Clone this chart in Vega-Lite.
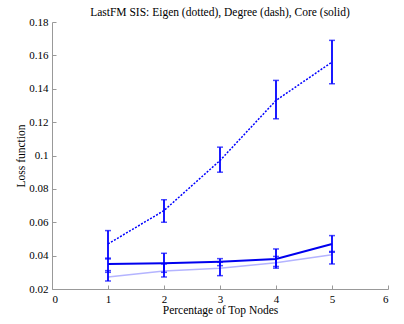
{
  "$schema": "https://vega.github.io/schema/vega-lite/v6.json",
  "width": 336,
  "height": 267,
  "autosize": {"type": "none"},
  "padding": {"left": 52, "top": 22, "right": 16, "bottom": 35},
  "background": "white",
  "title": {"text": "LastFM SIS: Eigen (dotted), Degree (dash), Core (solid)", "font": "Liberation Serif", "fontSize": 11.5, "fontWeight": "normal", "color": "#000", "offset": -2},
  "config": {
    "view": {"stroke": null},
    "axis": {"labelFont": "Liberation Serif", "titleFont": "Liberation Serif", "labelFontSize": 11, "titleFontSize": 11.5, "titleFontWeight": "normal", "labelColor": "#000", "titleColor": "#000", "domainColor": "#999", "tickColor": "#999", "grid": false, "tickSize": -4, "labelPadding": 8}
  },
  "data": {"values": [
    {"series": "Degree", "x": 1, "y": 0.047, "lo": 0.038, "hi": 0.055},
    {"series": "Degree", "x": 2, "y": 0.067, "lo": 0.060, "hi": 0.0735},
    {"series": "Degree", "x": 3, "y": 0.097, "lo": 0.090, "hi": 0.105},
    {"series": "Degree", "x": 4, "y": 0.133, "lo": 0.122, "hi": 0.145},
    {"series": "Degree", "x": 5, "y": 0.156, "lo": 0.143, "hi": 0.169},
    {"series": "Core", "x": 1, "y": 0.035, "lo": 0.030, "hi": 0.0385},
    {"series": "Core", "x": 2, "y": 0.0355, "lo": 0.030, "hi": 0.0414},
    {"series": "Core", "x": 3, "y": 0.0364, "lo": 0.034, "hi": 0.0382},
    {"series": "Core", "x": 4, "y": 0.038, "lo": 0.0335, "hi": 0.044},
    {"series": "Core", "x": 5, "y": 0.047, "lo": 0.042, "hi": 0.052},
    {"series": "Eigen", "x": 1, "y": 0.0272, "lo": 0.0248, "hi": 0.031},
    {"series": "Eigen", "x": 2, "y": 0.0308, "lo": 0.0272, "hi": 0.035},
    {"series": "Eigen", "x": 3, "y": 0.0324, "lo": 0.028, "hi": 0.036},
    {"series": "Eigen", "x": 4, "y": 0.0358, "lo": 0.0325, "hi": 0.0395},
    {"series": "Eigen", "x": 5, "y": 0.0405, "lo": 0.035, "hi": 0.0425}
  ]},
  "encoding": {
    "x": {"field": "x", "type": "quantitative", "scale": {"domain": [0, 6], "nice": false}, "axis": {"values": [0,1,2,3,4,5,6], "title": "Percentage of Top Nodes", "titlePadding": 0, "format": "d"}},
    "y": {"field": "y", "type": "quantitative", "scale": {"domain": [0.02, 0.18], "nice": false, "zero": false}, "axis": {"values": [0.02,0.04,0.06,0.08,0.1,0.12,0.14,0.16,0.18], "title": "Loss function", "titlePadding": 2, "format": "~g"}}
  },
  "layer": [
    {"transform": [{"filter": "datum.series === 'Eigen'"}], "mark": {"type": "line", "color": "#b4b4ff", "strokeWidth": 1.5}},
    {"transform": [{"filter": "datum.series === 'Degree'"}], "mark": {"type": "line", "color": "#0000ff", "strokeWidth": 1.5, "strokeDash": [2, 1.5]}},
    {"transform": [{"filter": "datum.series === 'Core'"}], "mark": {"type": "line", "color": "#0000ee", "strokeWidth": 2}},
    {"mark": {"type": "rule", "color": "#0000ff", "strokeWidth": 1.8}, "encoding": {"y": {"field": "lo", "type": "quantitative"}, "y2": {"field": "hi"}}},
    {"mark": {"type": "tick", "color": "#0000ff", "orient": "horizontal", "size": 6, "thickness": 1.5}, "encoding": {"y": {"field": "lo", "type": "quantitative"}}},
    {"mark": {"type": "tick", "color": "#0000ff", "orient": "horizontal", "size": 6, "thickness": 1.5}, "encoding": {"y": {"field": "hi", "type": "quantitative"}}}
  ]
}
